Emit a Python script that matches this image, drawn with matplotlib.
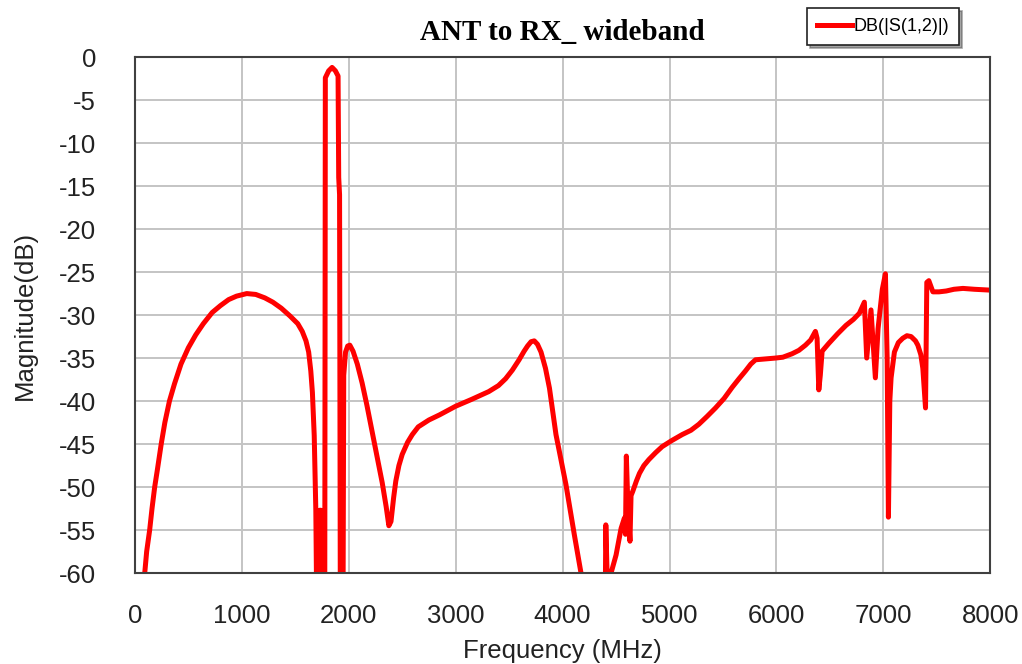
import numpy as np
import matplotlib
matplotlib.use("Agg")
import matplotlib.pyplot as plt

# S12 ANT -> RX (MHz, dB); -70 = off the bottom of the plot
freq_mhz = [80, 92, 110, 138, 160, 185, 210, 246, 280, 323, 370, 431, 500, 569, 640,
            723, 800, 877, 950, 1046, 1130, 1215, 1290, 1369, 1450, 1523, 1565,
            1600, 1625, 1645, 1660, 1677, 1692, 1705, 1718, 1728, 1740, 1752, 1775,
            1781, 1812, 1844, 1875, 1900, 1906, 1914, 1922, 1945,
            1953, 1970, 1990, 2010, 2040, 2080, 2125, 2170, 2219, 2270, 2313, 2350,
            2375, 2395, 2420, 2440, 2469, 2500, 2550, 2594, 2650, 2700, 2750, 2850,
            3000, 3150, 3309, 3400, 3467, 3530, 3593, 3640, 3672, 3705, 3735, 3765,
            3798, 3840, 3877, 3938, 4031, 4109, 4172, 4190, 4395, 4404, 4420, 4453,
            4500, 4547, 4578, 4588, 4596, 4610, 4630, 4640, 4656, 4690, 4719, 4760,
            4807, 4870, 4931, 5020, 5118, 5200, 5274, 5350, 5430, 5510, 5586, 5650,
            5710, 5760, 5804, 5900, 5991, 6060, 6146, 6210, 6271, 6320, 6364, 6380,
            6396, 6410, 6427, 6489, 6570, 6650, 6720, 6775, 6822, 6844, 6884, 6925,
            6950, 6990, 7019, 7035, 7047, 7060, 7072, 7103, 7140, 7181, 7220, 7259,
            7300, 7322, 7350, 7369, 7394, 7406, 7425, 7463, 7520, 7588, 7660, 7744,
            7850, 8000]
s12_db = [-70, -60, -57.5, -55, -52.5, -50, -48, -45, -42.5, -40, -38, -35.7, -33.8, -32.3, -31,
          -29.7, -28.9, -28.2, -27.8, -27.5, -27.6, -28, -28.5, -29.2, -30.1, -31, -31.9,
          -33, -34.3, -36.5, -39, -44, -52.7, -70, -70, -52.7, -52.7, -70, -70,
          -2.4, -1.6, -1.2, -1.6, -2.2, -14, -16, -70, -70,
          -37, -34.3, -33.6, -33.5, -34.2, -35.7, -37.9, -40.5, -43.6, -46.8, -49.5, -52.3,
          -54.5, -54, -51.2, -49.3, -47.5, -46.2, -44.8, -43.9, -43, -42.6, -42.2, -41.6,
          -40.6, -39.8, -38.9, -38.2, -37.4, -36.4, -35.2, -34.2, -33.6, -33.1, -33, -33.4,
          -34.3, -36.2, -38.5, -43.9, -49.7, -55.5, -60, -70, -70, -54.4, -62, -60,
          -57.9, -54.8, -53.6, -55.5, -46.4, -52, -56.3, -51, -50.5, -49.3, -48.4, -47.5,
          -46.8, -46, -45.3, -44.6, -43.9, -43.4, -42.7, -41.8, -40.8, -39.7, -38.4, -37.4,
          -36.5, -35.7, -35.2, -35.1, -35.0, -34.9, -34.5, -34.1, -33.5, -32.9, -31.9, -32.7,
          -38.7, -37, -34.2, -33.3, -32.2, -31.2, -30.5, -29.8, -28.5, -35, -29.4, -37.3,
          -31.6, -27, -25.2, -35, -53.5, -40, -37.3, -34.3, -33.2, -32.7, -32.4, -32.5,
          -33, -33.5, -34.6, -36.2, -40.8, -26.2, -26, -27.3, -27.3, -27.2, -27.0, -26.9,
          -27.0, -27.1]

x_ticks = [0, 1000, 2000, 3000, 4000, 5000, 6000, 7000, 8000]
y_ticks = [0, -5, -10, -15, -20, -25, -30, -35, -40, -45, -50, -55, -60]

plt.rcParams['font.family'] = ['Liberation Sans', 'DejaVu Sans']
plt.rcParams['axes.unicode_minus'] = False

fig = plt.figure(figsize=(10.22, 6.64), dpi=100)
ax = fig.add_axes([0.132, 0.137, 0.837, 0.777])

ax.plot(freq_mhz, s12_db, color='#ff0000', linewidth=3.6, label='DB(|S(1,2)|)',
        solid_joinstyle='round')

ax.set_xlim(0, 8000)
ax.set_ylim(-60, 0)
ax.set_xticks(x_ticks)
ax.set_yticks(y_ticks)
ax.tick_params(length=0, labelsize=18.5, colors='#222222')
ax.tick_params(axis='x', pad=22)
ax.tick_params(axis='y', pad=28)
ax.grid(True, color='#c4c4c4', linewidth=1.4)
ax.set_axisbelow(True)
for sp in ax.spines.values():
    sp.set_color('#404040')
    sp.set_linewidth(1.5)

ax.set_xlabel('Frequency (MHz)', fontsize=18.5, color='#222222', labelpad=8)
ax.set_ylabel('Magnitude(dB)', fontsize=18.5, color='#222222', labelpad=16)
ax.set_title('ANT to RX_ wideband', fontsize=21, fontweight='bold',
             family='Liberation Serif', pad=12)

leg = ax.legend(loc='upper left', bbox_to_anchor=(0.790, 0.988),
                bbox_transform=fig.transFigure, fontsize=13, frameon=True,
                fancybox=False, shadow=True, edgecolor='#222222',
                handlelength=1.9, handletextpad=0.1, borderpad=0.55,
                borderaxespad=0)
leg.get_frame().set_linewidth(1.2)

fig.savefig('out.png', dpi=100)
